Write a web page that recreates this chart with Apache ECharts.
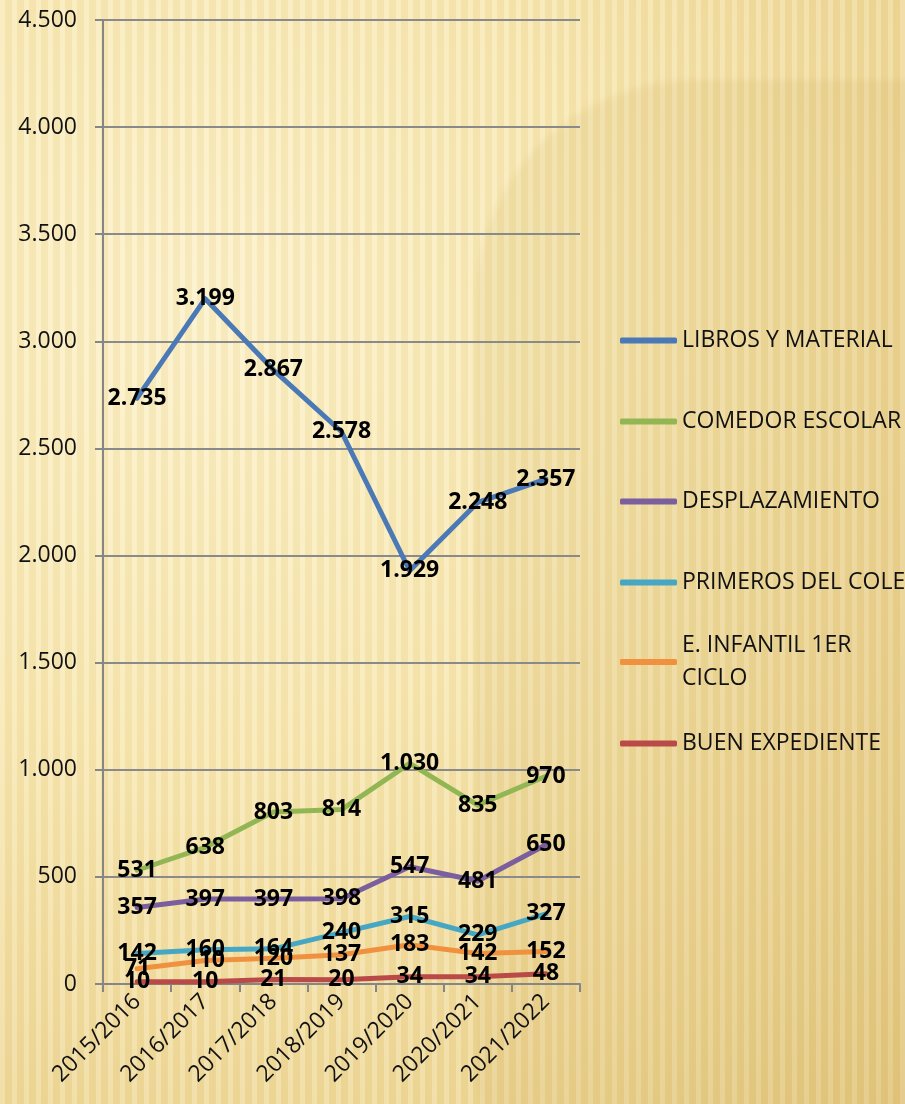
<!DOCTYPE html>
<html>
<head>
<meta charset="utf-8">
<script src="https://cdn.jsdelivr.net/npm/echarts@6/dist/echarts.min.js"></script>
<style>
html, body {
  margin: 0;
  padding: 0;
}
body {
  position: relative;
  width: 905px;
  height: 1104px;
  overflow: hidden;
  background:
    repeating-linear-gradient(90deg, rgba(255,255,255,0.16) 0px, rgba(255,255,255,0.16) 5px, rgba(185,145,45,0.07) 5px, rgba(185,145,45,0.07) 12px),
    radial-gradient(ellipse at 22% 28%, #FCF1C9 0%, #F8E8B2 40%, #EFD898 75%, #E6CB84 100%);
}
.shade {
  position: absolute;
  left: 476px;
  top: 80px;
  width: 700px;
  height: 1200px;
  border-radius: 220px;
  background: rgba(195,155,60,0.11);
  filter: blur(3px);
}
#chart {
  position: absolute;
  left: 0;
  top: 0;
  width: 905px;
  height: 1104px;
}
</style>
</head>
<body>
<div class="shade"></div>
<div id="chart"></div>
<script>
var years = ['2015/2016', '2016/2017', '2017/2018', '2018/2019', '2019/2020', '2020/2021', '2021/2022']
var seriesNames = ['LIBROS Y MATERIAL', 'COMEDOR ESCOLAR', 'DESPLAZAMIENTO', 'PRIMEROS DEL COLE', 'E. INFANTIL 1ER CICLO', 'BUEN EXPEDIENTE']
var libros = [2735, 3199, 2867, 2578, 1929, 2248, 2357]
var comedor = [531, 638, 803, 814, 1030, 835, 970]
var desplazamiento = [357, 397, 397, 398, 547, 481, 650]
var primeros = [142, 160, 164, 240, 315, 229, 327]
var infantil = [71, 110, 120, 137, 183, 142, 152]
var expediente = [10, 10, 21, 20, 34, 34, 48]
var colors = ['#4A79B5', '#93B655', '#7B5E9E', '#45A7C3', '#F0913F', '#B94A47']

// formato con punto de miles
function fmt(v) {
  return String(v).replace(/\B(?=(\d{3})+(?!\d))/g, '.')
}

var allData = [libros, comedor, desplazamiento, primeros, infantil, expediente]
var legendTops = [324, 405, 485, 566, 612.5, 727]

var chart = echarts.init(document.getElementById('chart'))

var legends = seriesNames.map(function (name, i) {
  var isInfantil = i === 4
  return {
    data: [name],
    orient: 'vertical',
    left: 620,
    top: legendTops[i],
    padding: 0,
    icon: 'roundRect',
    itemWidth: 57,
    itemHeight: 6,
    formatter: isInfantil ? function () { return 'E. INFANTIL 1ER\nCICLO' } : '{name}',
    textStyle: {
      fontFamily: 'Open Sans',
      fontSize: 23,
      color: '#111',
      lineHeight: 33,
      padding: isInfantil ? [33, 0, 0, 0] : 0,
    },
  }
})

chart.setOption({
  animation: false,
  color: colors,
  legend: legends,
  grid: {
    left: 103,
    right: 325,
    top: 20,
    bottom: 120,
    containLabel: false,
  },
  xAxis: {
    type: 'category',
    data: years,
    boundaryGap: true,
    axisLine: { lineStyle: { color: '#868686', width: 2 } },
    axisTick: { show: true, length: 8, alignWithLabel: false, lineStyle: { color: '#868686', width: 2 } },
    axisLabel: {
      rotate: 45,
      interval: 0,
      margin: 14,
      fontFamily: 'Open Sans',
      fontSize: 23,
      color: '#111',
    },
  },
  yAxis: {
    type: 'value',
    min: 0,
    max: 4500,
    interval: 500,
    axisLine: { show: true, lineStyle: { color: '#868686', width: 2 } },
    axisTick: { show: true, length: 8, lineStyle: { color: '#868686', width: 2 } },
    splitLine: { lineStyle: { color: '#8A8A8A', width: 2 } },
    axisLabel: {
      margin: 26,
      fontFamily: 'Open Sans',
      fontSize: 23,
      color: '#111',
      formatter: function (v) { return fmt(v) },
    },
  },
  series: seriesNames.map(function (name, i) {
    return {
      name: name,
      type: 'line',
      data: allData[i],
      symbol: 'circle',
      symbolSize: 1,
      lineStyle: { width: 5, cap: 'round', join: 'round' },
      label: {
        show: true,
        position: 'inside',
        fontFamily: 'Open Sans',
        fontWeight: 'bold',
        fontSize: 23,
        color: '#000',
        formatter: function (p) { return fmt(p.value) },
      },
      emphasis: { disabled: true },
    }
  }),
})
</script>
</body>
</html>
